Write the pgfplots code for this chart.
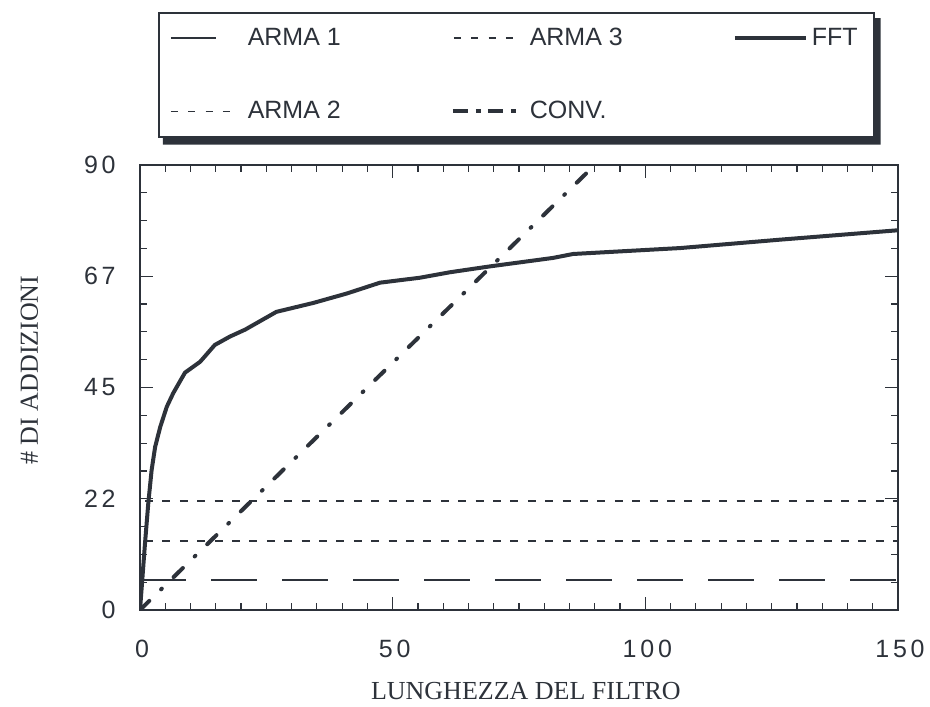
\documentclass[border=0pt]{standalone}
\usepackage{fontspec}
\setmainfont{Liberation Serif}
\newfontfamily\tickfont[LetterSpace=15]{Liberation Sans}
\newfontfamily\legfont{Liberation Sans}
\usepackage{pgfplots}
\pgfplotsset{compat=1.18}
\definecolor{ink}{RGB}{45,50,58}
\begin{document}
\begin{tikzpicture}
\begin{axis}[
  scale only axis, width=379pt, height=222.5pt,
  xmin=0, xmax=150, ymin=0, ymax=90,
  xtick={0,50,100,150}, xticklabels={0,50,100,150},
  ytick={0,22.5,45,67.5,90}, yticklabels={0,22,45,67,90},
  minor xtick={5,10,...,145}, minor y tick num=3,
  tick align=inside, tick pos=both,
  major tick length=6.3pt, minor tick length=3.3pt,
  axis line style={line width=0.9pt, ink},
  tick style={line width=0.6pt, ink},
  ticklabel style={font=\tickfont\fontsize{12.5}{14}\selectfont, text=ink},
  yticklabel style={anchor=east, inner sep=0pt, xshift=-12pt},
  xticklabel style={anchor=north, inner sep=0pt, yshift=-15pt, xshift=1pt},
  xlabel={LUNGHEZZA DEL FILTRO},
  ylabel={\# DI ADDIZIONI},
  xlabel style={at={(axis description cs:0.509,-0.182)}, anchor=center, font=\fontsize{13}{15}\selectfont, text=ink},
  ylabel style={at={(axis description cs:-0.1458,0.539)}, anchor=center, font=\fontsize{13}{15}\selectfont, text=ink},
  legend columns=3,
  legend cell align=left,
  legend style={name=leg, at={(axis description cs:0.0237,1.3438)}, anchor=north west,
    draw=ink, line width=0.8pt, fill=white,
    inner xsep=6pt, inner ysep=7.5pt, row sep=26.5pt,
    font=\legfont\fontsize{12.5}{14}\selectfont, text=ink,
    nodes={inner sep=0pt},
    /tikz/every odd column/.append style={column sep=7.5pt},
    /tikz/every even column/.append style={column sep=55.5pt}},
]
% ARMA 1
\addplot[ink, line width=0.75pt, dash pattern=on 23pt off 12.5pt, dash phase=1.5pt,
  legend image code/.code={\draw[overlay, fill=none, draw=ink, solid, line width=0.6pt] (0pt,0pt) -- (22.5pt,0pt); \path[draw=none, fill=none] (0pt,-1pt) rectangle (31pt,1pt);}]
  coordinates {(0.6,6.1) (150,6.1)};
\addlegendentry{\makebox[47pt][l]{ARMA 1}}
% ARMA 3
\addplot[ink, line width=0.9pt, dash pattern=on 4pt off 4.7pt,
  legend image code/.code={\draw[overlay, fill=none, draw=ink, line width=0.7pt, dash pattern=on 3.5pt off 5.2pt] (0.5pt,0pt) -- (30pt,0pt); \path[draw=none, fill=none] (0pt,-1pt) rectangle (31pt,1pt);}]
  coordinates {(1,22.1) (150,22.1)};
\addlegendentry{\makebox[47pt][l]{ARMA 3}}
% FFT
\addplot[ink, line width=2pt, solid, line join=round,
  legend image code/.code={\draw[overlay, fill=none, draw=ink, solid, line width=2pt] (0pt,0pt) -- (35.5pt,0pt); \path[draw=none, fill=none] (0pt,-1pt) rectangle (31pt,1pt);}]
  coordinates {(0,0) (1,13.6) (1.65,21.7) (2.3,28.3) (3,33) (4,37) (5.3,41.1) (6.6,43.9) (8.9,48) (11.9,50.2) (14.8,53.6) (17.8,55.3) (20.8,56.7) (27,60.3) (34.3,62.1) (40.9,64) (47.5,66.2) (55.4,67.2) (61.3,68.3) (69.3,69.5) (81.7,71.2) (85.7,72) (106.9,73.2) (126.7,74.9) (150,76.8)};
\addlegendentry{\makebox[25pt][l]{FFT}}
% ARMA 2
\addplot[ink, line width=0.9pt, dash pattern=on 4pt off 4.7pt,
  legend image code/.code={\draw[overlay, fill=none, draw=ink, line width=0.7pt, dash pattern=on 3.5pt off 5.2pt] (0pt,0pt) -- (29.6pt,0pt); \path[draw=none, fill=none] (0pt,-1pt) rectangle (31pt,1pt);}]
  coordinates {(1,14) (150,14)};
\addlegendentry{\makebox[47pt][l]{ARMA 2}}
% CONV
\addplot[ink, line width=2pt, line cap=round, dash pattern=on 6.5pt off 8.25pt on 0.5pt off 8.25pt,
  legend image code/.code={\draw[overlay, fill=none, draw=ink, line width=2pt, line cap=butt, dash pattern=on 7.5pt off 4pt on 2.5pt off 3.5pt] (0pt,0pt) -- (31.5pt,0pt); \path[draw=none, fill=none] (0pt,-1pt) rectangle (31pt,1pt);}]
  coordinates {(0,0) (95,95)};
\addlegendentry{\makebox[47pt][l]{CONV.}}
\end{axis}
\fill[ink] ([xshift=2.5pt]leg.south west) -- ([xshift=2.5pt,yshift=-3.5pt]leg.south west)
  -- ([xshift=3pt,yshift=-3.5pt]leg.south east) -- ([xshift=3pt,yshift=-3pt]leg.north east)
  -- ([yshift=-3pt]leg.north east) -- (leg.south east) -- cycle;
\path ([xshift=-70pt,yshift=-47pt]current axis.south west) rectangle ([xshift=16pt,yshift=82.5pt]current axis.north east);
\end{tikzpicture}
\end{document}
